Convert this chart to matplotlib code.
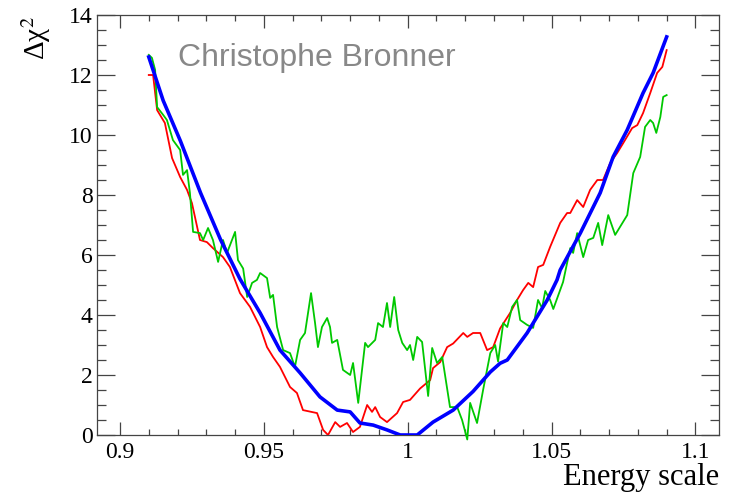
import matplotlib
matplotlib.use("Agg")
import matplotlib.pyplot as plt
from matplotlib.ticker import MultipleLocator, FixedFormatter, FixedLocator

# ---- data ----
blue_x = [0.910, 0.915, 0.921, 0.928, 0.935, 0.9417, 0.9487, 0.9556, 0.9626, 0.9695,
          0.9755, 0.980, 0.9834, 0.988, 0.9928, 0.9974, 1.0033, 1.0088, 1.0158, 1.0227,
          1.0287, 1.0321, 1.0346, 1.0415, 1.0485, 1.0519, 1.053, 1.060, 1.0669, 1.0714,
          1.0763, 1.0818, 1.0853, 1.090]
blue_y = [12.6, 11.15, 9.8, 8.07, 6.5, 5.2, 4.07, 2.83, 2.07, 1.27,
          0.83, 0.77, 0.4, 0.33, 0.17, 0.0, 0.0, 0.43, 0.83, 1.45,
          2.1, 2.39, 2.5, 3.4, 4.5, 5.17, 5.5, 6.73, 8.07, 9.27,
          10.17, 11.4, 12.07, 13.27]

red_x = [0.910, 0.9115, 0.9129, 0.9156, 0.9181, 0.9209, 0.9233, 0.9250, 0.9278, 0.9302,
         0.9323, 0.9358, 0.9382, 0.9417, 0.9452, 0.9487, 0.9511, 0.9532, 0.9556, 0.9591,
         0.9615, 0.9636, 0.9685, 0.9706, 0.9723, 0.9748, 0.9765, 0.9789, 0.9810, 0.9834,
         0.9859, 0.9876, 0.9887, 0.9904, 0.9928, 0.9963, 0.9984, 1.0008, 1.0043, 1.0078,
         1.0088, 1.0113, 1.0137, 1.0158, 1.0193, 1.0207, 1.0227, 1.0252, 1.0276, 1.0297,
         1.0321, 1.0356, 1.0380, 1.0401, 1.0419, 1.0436, 1.0453, 1.0471, 1.0495, 1.0530,
         1.0554, 1.0565, 1.0589, 1.0610, 1.0634, 1.0659, 1.0679, 1.0704, 1.0728, 1.0749,
         1.0780, 1.0798, 1.0818, 1.0843, 1.0867, 1.0885, 1.090]
red_y = [12.0, 12.0, 10.83, 10.4, 9.23, 8.6, 8.17, 7.73, 6.5, 6.43,
         6.23, 5.93, 5.6, 4.73, 4.27, 3.6, 2.93, 2.6, 2.27, 1.6,
         1.4, 0.83, 0.73, 0.17, 0.0, 0.43, 0.27, 0.4, 0.1, 0.27,
         1.0, 0.77, 0.93, 0.6, 0.43, 0.73, 1.1, 1.17, 1.55, 1.83,
         2.23, 2.43, 2.93, 3.05, 3.4, 3.27, 3.4, 3.4, 2.83, 2.93,
         3.55, 4.07, 4.5, 4.83, 5.07, 4.93, 5.6, 5.67, 6.27, 7.07,
         7.4, 7.4, 7.83, 7.6, 8.17, 8.5, 8.5, 9.07, 9.4, 9.73,
         10.23, 10.33, 10.73, 11.4, 12.07, 12.27, 12.83]

green_x = [0.910, 0.9111, 0.9122, 0.9129, 0.9150, 0.9163, 0.9184, 0.9209, 0.9219, 0.9233,
           0.9243, 0.9254, 0.9278, 0.9289, 0.9306, 0.9323, 0.9341, 0.9358, 0.9372, 0.9400,
           0.9410, 0.9428, 0.9442, 0.9459, 0.9476, 0.9487, 0.9511, 0.9522, 0.9532, 0.9546,
           0.9567, 0.9591, 0.9608, 0.9626, 0.9643, 0.9664, 0.9678, 0.9688, 0.9702, 0.9720,
           0.9730, 0.9737, 0.9755, 0.9775, 0.9800, 0.9810, 0.9828, 0.9852, 0.9862, 0.9887,
           0.9897, 0.9914, 0.9928, 0.9939, 0.9953, 0.9967, 0.9981, 0.9998, 1.0008, 1.0019,
           1.0033, 1.0050, 1.0071, 1.0085, 1.0102, 1.0120, 1.0147, 1.0172, 1.0189, 1.0207,
           1.0217, 1.0241, 1.0262, 1.0287, 1.0304, 1.0314, 1.0332, 1.0346, 1.0363, 1.0380,
           1.0391, 1.0415, 1.0436, 1.0453, 1.0467, 1.0478, 1.0495, 1.0506, 1.0540, 1.0565,
           1.0575, 1.0589, 1.0610, 1.0627, 1.0645, 1.0662, 1.0676, 1.0697, 1.0721, 1.0763,
           1.0784, 1.0808, 1.0825, 1.0843, 1.0853, 1.0864, 1.0878, 1.0888, 1.090]
green_y = [12.67, 12.57, 12.17, 10.93, 10.67, 10.5, 9.83, 9.5, 8.67, 8.83,
           8.07, 6.77, 6.73, 6.5, 6.9, 6.5, 5.77, 6.5, 6.07, 6.77,
           5.83, 5.55, 4.6, 5.07, 5.17, 5.4, 5.23, 4.57, 4.67, 3.6,
           2.83, 2.73, 2.27, 3.17, 3.4, 4.73, 3.73, 2.93, 3.6, 3.9,
           3.6, 3.07, 3.17, 2.17, 2.0, 2.4, 1.07, 3.07, 2.93, 3.17,
           3.73, 3.6, 4.4, 3.6, 4.6, 3.5, 3.07, 2.83, 3.0, 2.5,
           3.27, 3.1, 1.3, 2.9, 2.4, 2.6, 0.93, 0.93, 0.5, -0.15,
           1.07, 0.4, 1.5, 2.73, 3.0, 2.45, 3.73, 3.6, 4.27, 4.5,
           3.83, 3.67, 3.57, 4.5, 4.23, 4.8, 4.5, 4.2, 5.1, 6.23,
           6.07, 6.73, 5.93, 6.5, 6.57, 7.07, 6.33, 7.33, 6.67, 7.33,
           8.73, 9.27, 10.27, 10.5, 10.4, 10.07, 10.6, 11.27, 11.33]

x_ticks = [0.9, 0.95, 1.0, 1.05, 1.1]
x_tick_labels = ["0.9", "0.95", "1", "1.05", "1.1"]
y_ticks = [0, 2, 4, 6, 8, 10, 12, 14]
y_tick_labels = ["0", "2", "4", "6", "8", "10", "12", "14"]

# ---- figure ----
plt.rcParams['mathtext.fontset'] = 'stix'
W, H = 737, 492
fig = plt.figure(figsize=(W / 100, H / 100), dpi=100)
ax = fig.add_axes([96.7 / W, 1 - 435 / H, (719.3 - 96.7) / W, (435 - 15) / H])

ax.plot(red_x, red_y, color='#ff0000', lw=1.3, zorder=3)
ax.plot(green_x, green_y, color='#00c800', lw=1.3, zorder=3, clip_on=False)
ax.plot(blue_x, blue_y, color='#0000ff', lw=2.6, zorder=4)

ax.set_xlim(0.8919, 1.1083)
ax.set_ylim(0, 14)

ax.xaxis.set_major_locator(FixedLocator(x_ticks))
ax.xaxis.set_major_formatter(FixedFormatter(x_tick_labels))
ax.xaxis.set_minor_locator(MultipleLocator(0.01))
ax.yaxis.set_major_locator(FixedLocator(y_ticks))
ax.yaxis.set_major_formatter(FixedFormatter(y_tick_labels))
ax.yaxis.set_minor_locator(MultipleLocator(0.5))

axis_col = '#444444'
for s in ax.spines.values():
    s.set_color(axis_col)
    s.set_linewidth(0.9)

serif = 'Liberation Serif'
ax.tick_params(axis='both', which='both', direction='in', top=True, right=True,
               color=axis_col, width=0.9)
ax.tick_params(axis='x', which='major', length=9.2, pad=5, labelsize=17)
ax.tick_params(axis='x', which='minor', length=4.5)
ax.tick_params(axis='y', which='major', length=13, pad=3, labelsize=17)
ax.tick_params(axis='y', which='minor', length=6.5)
for lbl in ax.get_xticklabels() + ax.get_yticklabels():
    lbl.set_fontfamily(serif)

fig.text(719 / W, 1 - 477 / H, "Energy scale", ha='right', va='center',
         fontsize=22, family=serif)
fig.text(36 / W, 1 - 16 / H, "Δχ$^{2}$", rotation=90, ha='center', va='top',
         fontsize=21, family=serif)
fig.text(178 / W, 1 - 58 / H, "Christophe Bronner", ha='left', va='center',
         fontsize=23, family='Liberation Sans', color='#888888')

fig.savefig("out.png", dpi=100)
